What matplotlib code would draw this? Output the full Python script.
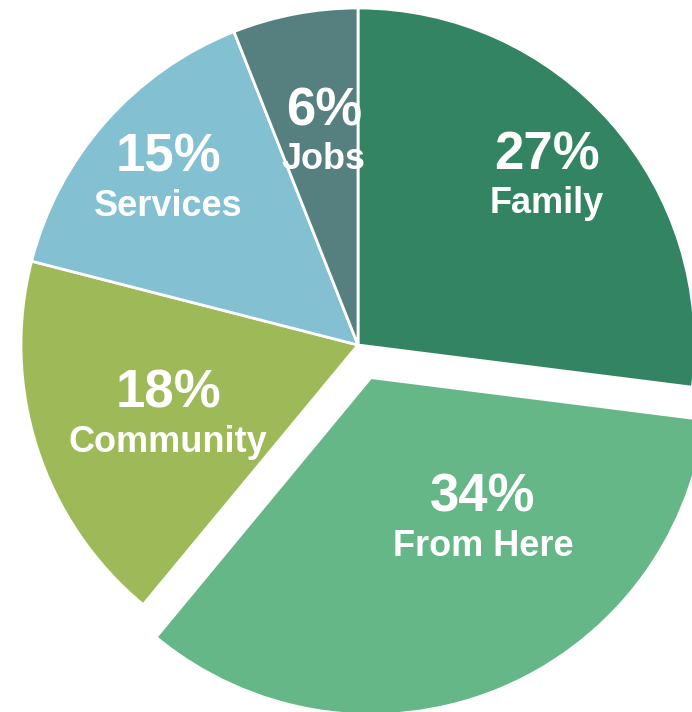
import numpy as np
import matplotlib.pyplot as plt

labels = ['Family', 'From Here', 'Community', 'Services', 'Jobs']
shares = [27, 34, 18, 15, 6]
colors = ['#338463', '#66b788', '#9eba58', '#82c0d2', '#568080']
explode_frac = [0, 0.104, 0, 0, 0]

# label anchors in pixel offsets from the pie centre (x right, y up): pct baseline
label_xy = [(189, 176), (125, -167), (-190, -63), (-190, 173), (-34, 220)]
gap = 44

W, H = 692, 712
cx, cy, R = 358, 345, 337

fig = plt.figure(figsize=(W/100, H/100), dpi=100)
ax = fig.add_axes([0, 0, 1, 1])
# pie's explode is in data units, so scale it by the radius
ax.pie(shares, colors=colors, explode=[e*R for e in explode_frac], startangle=90,
       counterclock=False, radius=R, center=(0, 0),
       wedgeprops=dict(edgecolor='white', linewidth=2, antialiased=True))
ax.set_xlim(-cx, W-cx)
ax.set_ylim(-(H-cy), cy)
ax.set_aspect('equal')
ax.axis('off')

for (x, y), lab, s in zip(label_xy, labels, shares):
    ax.text(x, y, '%d%%' % s, color='white', fontsize=38, fontweight='bold',
            family='Liberation Sans', ha='center', va='baseline')
    ax.text(x, y-gap, lab, color='white', fontsize=26, fontweight='bold',
            family='Liberation Sans', ha='center', va='baseline')

plt.savefig('out.png', dpi=100)
plt.close()
